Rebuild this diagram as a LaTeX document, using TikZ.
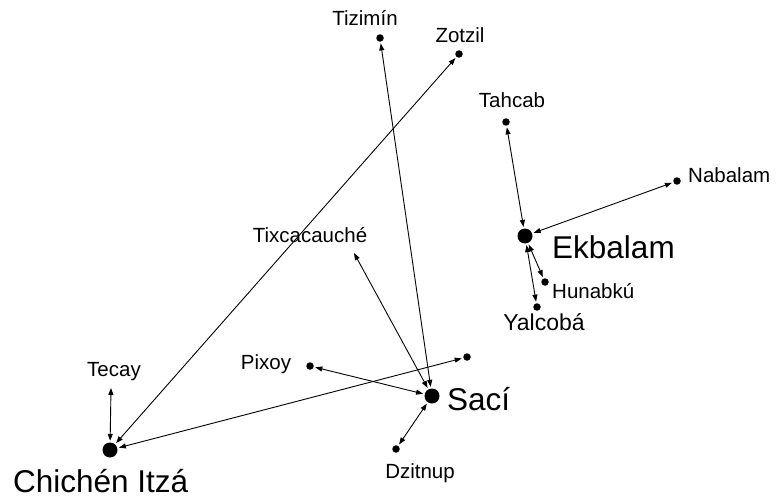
\documentclass[tikz,border=0pt]{standalone}
\usepackage{fontspec}
\setmainfont{Liberation Sans}
\usetikzlibrary{arrows.meta}
\begin{document}
\begin{tikzpicture}[x=1pt,y=-1pt,
  smalldot/.style={circle,fill=black,inner sep=0pt,minimum size=7.5pt},
  bigdot/.style={circle,fill=black,inner sep=0pt,minimum size=15pt},
  lbl/.style={font=\fontsize{20.5}{24}\selectfont,inner sep=0pt,anchor=base},
  biglbl/.style={font=\fontsize{31.5}{36}\selectfont,inner sep=0pt,anchor=base west},
  link/.style={line width=0.9pt,{Triangle[length=7pt,width=5pt]}-{Triangle[length=7pt,width=5pt]},
    shorten <=1.5pt,shorten >=1.5pt}]
\useasboundingbox (0,0) rectangle (776,500);

% sites
\node[smalldot] (tiz) at (380,38) {};
\node[smalldot] (zot) at (459,54) {};
\node[smalldot] (tah) at (506,122) {};
\node[smalldot] (nab) at (677,181) {};
\node[bigdot]   (ekb) at (525,236) {};
\node[smalldot] (hun) at (545,282) {};
\node[smalldot] (yal) at (537,307) {};
\node[smalldot] (pix) at (310,366) {};
\node[smalldot] (unk) at (467,357) {};
\node[bigdot]   (sac) at (432,396) {};
\node[smalldot] (dzi) at (396,449) {};
\node[bigdot]   (chi) at (110,450) {};
\coordinate (tix) at (354,253);
\coordinate (tec) at (111,388);

% names
\node[lbl] (tizL) at (365,26) {Tizimín};
\node[lbl] (zotL) at (460,43) {Zotzil};
\node[lbl] (tahL) at (512,108) {Tahcab};
\node[lbl,anchor=base west] (nabL) at (688,182) {Nabalam};
\node[biglbl] (ekbL) at (552,258) {Ekbalam};
\node[lbl,anchor=base west] (hunL) at (552,298) {Hunabkú};
\node[lbl,font=\fontsize{23}{27}\selectfont] (yalL) at (544,330) {Yalcobá};
\node[lbl] (tixL) at (310,242) {Tixcacauché};
\node[lbl] (pixL) at (266,369) {Pixoy};
\node[biglbl] (sacL) at (447,410) {Sací};
\node[lbl] (dziL) at (420,478) {Dzitnup};
\node[lbl] (tecL) at (114,376) {Tecay};
\node[biglbl] (chiL) at (13,492) {Chichén Itzá};

% connections
\draw[link] (tiz) -- (sac);
\draw[link] (zot) -- (chi);
\draw[link] (tah) -- (ekb);
\draw[link] (nab) -- (ekb);
\draw[link] (ekb) -- (hun);
\draw[link] (ekb) -- (yal);
\draw[link,shorten <=0pt] (tix) -- (sac);
\draw[link] (pix) -- (sac);
\draw[link] (dzi) -- (sac);
\draw[link] (unk) -- (chi);
\draw[link,shorten <=0pt] (tec) -- (chi);
\end{tikzpicture}
\end{document}
